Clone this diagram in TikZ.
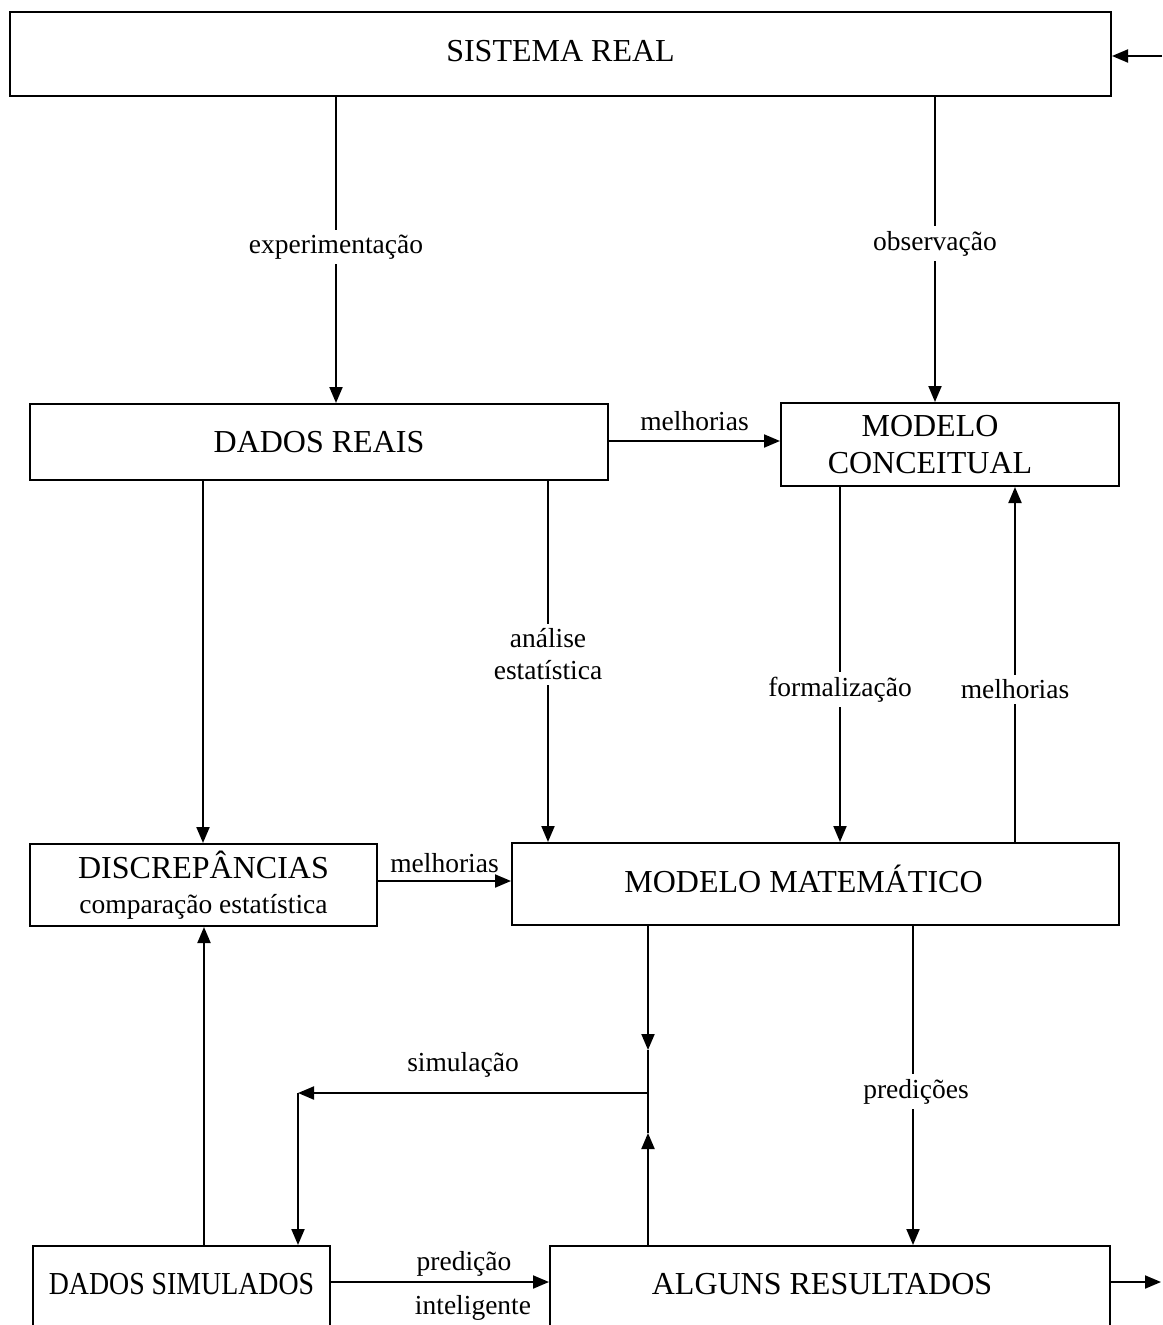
\documentclass[tikz,border=0pt]{standalone}
\usepackage{fontspec}
\setmainfont{Liberation Serif}
\usetikzlibrary{arrows.meta}
\begin{document}
\begin{tikzpicture}[x=1pt,y=-1pt,
  box/.style={draw, line width=2pt, inner sep=0pt, align=center,
    font=\fontsize{32}{37}\selectfont},
  arr/.style={line width=2pt, -{Triangle[length=16pt,width=13pt]}},
  ln/.style={line width=2pt},
  lab/.style={font=\fontsize{27.5}{32}\selectfont, align=center, inner sep=3pt},
  labw/.style={lab, fill=white, inner sep=5pt}]
\useasboundingbox (0,0) rectangle (1162,1325);
\clip (0,0) rectangle (1162,1325);

% boxes
\node[box, minimum width=1101pt, minimum height=84pt, text depth=6pt] (sr) at (560.5,54) {SISTEMA REAL};
\node[box, minimum width=578pt, minimum height=76pt] (dr) at (319,442) {DADOS REAIS};
\node[box, minimum width=338pt, minimum height=83pt] (mc) at (950,444.5) {MODELO\hspace*{40pt}\\CONCEITUAL\hspace*{40pt}};
\node[box, minimum width=347pt, minimum height=82pt] (disc) at (203.5,885)
  {DISCREPÂNCIAS\\[-2pt]{\fontsize{27.5}{30}\selectfont comparação estatística}};
\node[box, minimum width=607pt, minimum height=82pt, text depth=10pt] (mm) at (815.5,884) {MODELO MATEMÁTICO\hspace*{24pt}};
\node[box, anchor=north, minimum width=297pt, text height=22pt, text depth=70pt, inner ysep=26pt] (dsim) at (181.5,1245) {\scalebox{0.87}[1]{DADOS SIMULADOS}};
\node[box, anchor=north, minimum width=560pt, text height=22pt, text depth=70pt, inner ysep=26pt] (alg) at (830,1245) {ALGUNS RESULTADOS\hspace*{16pt}};

% free ends and junctions
\coordinate (inR) at (1162,56);
\coordinate (outR) at (1161,1282);
\coordinate (tipD) at (648,1050);
\coordinate (tipU) at (648,1133);
\coordinate (jn) at (648,1093);
\coordinate (cr) at (298,1093);

% connectors
\draw[arr] (inR) -- (inR -| sr.east);
\draw[arr] (336,0 |- sr.south) -- node[labw, pos=0.49] {experimentação} (336,0 |- dr.north);
\draw[arr] (935,0 |- sr.south) -- node[labw, pos=0.48] {observação} (935,0 |- mc.north);
\draw[arr] (dr.east |- 0,441) -- node[lab, above=6pt] {melhorias} (mc.west |- 0,441);
\draw[arr] (203,0 |- dr.south) -- (203,0 |- disc.north);
\draw[arr] (548,0 |- dr.south) -- node[labw, pos=0.48] {análise\\estatística} (548,0 |- mm.north);
\draw[arr] (840,0 |- mc.south) -- node[labw, pos=0.57] {formalização} (840,0 |- mm.north);
\draw[arr] (1015,0 |- mm.north) -- node[labw, pos=0.43] {melhorias} (1015,0 |- mc.south);
\draw[arr] (disc.east |- 0,881) -- node[lab, above=4pt] {melhorias} (mm.west |- 0,881);
\draw[arr] (648,0 |- mm.south) -- (tipD);
\draw[ln] (tipD) -- (tipU);
\draw[arr] (648,0 |- alg.north) -- (tipU);
\draw[arr] (jn) -- node[lab, above=12pt, xshift=-10pt] {simulação} (cr);
\draw[arr] (cr) -- (298,0 |- dsim.north);
\draw[arr] (913,0 |- mm.south) -- node[labw, pos=0.52, xshift=3pt] {predições} (913,0 |- alg.north);
\draw[arr] (204,0 |- dsim.north) -- (204,0 |- disc.south);
\draw[arr] (dsim.east |- 0,1282) -- node[lab, above=2pt, xshift=24pt] {predição} node[lab, below=9pt, xshift=33pt] {inteligente} (alg.west |- 0,1282);
\draw[arr] (alg.east |- outR) -- (outR);
\end{tikzpicture}
\end{document}
